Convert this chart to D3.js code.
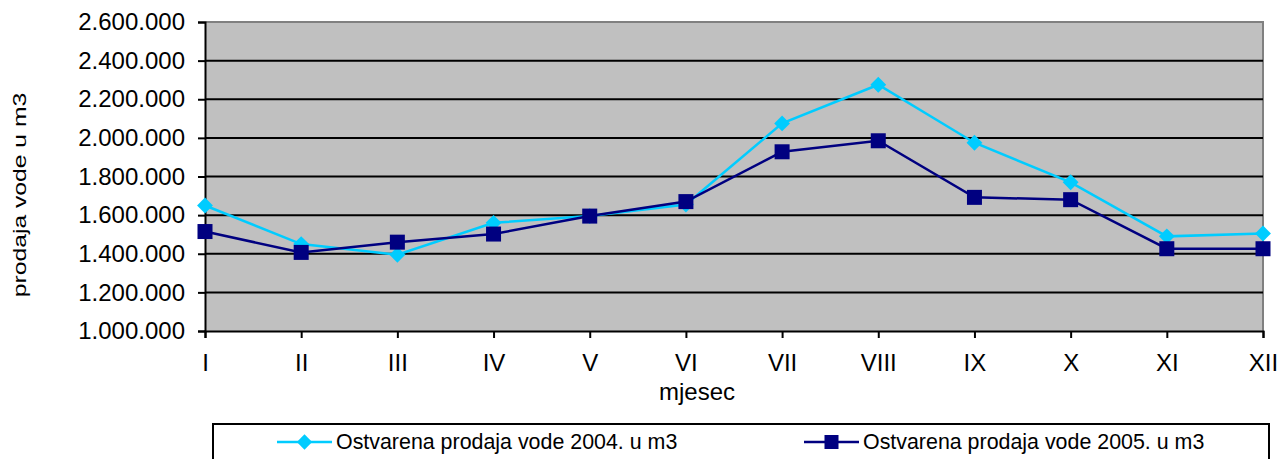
<!DOCTYPE html>
<html>
<head>
<meta charset="utf-8">
<script src="https://cdn.jsdelivr.net/npm/d3@7"></script>
<style>
  body { margin: 0; background: #fff; }
  text { font-family: "Liberation Sans", Arial, sans-serif; fill: #000; }
</style>
</head>
<body>
<div id="chart"></div>
<script>
// months (roman numerals)
const months = ["I","II","III","IV","V","VI","VII","VIII","IX","X","XI","XII"];
// water sales 2004 / 2005 in m3
const sales2004 = [1650000,1450000,1395000,1560000,1595000,1655000,2075000,2275000,1975000,1770000,1490000,1505000];
const sales2005 = [1515000,1407000,1460000,1502000,1595000,1670000,1928000,1985000,1692000,1680000,1426000,1426000];
const yTicks = [1000000,1200000,1400000,1600000,1800000,2000000,2200000,2400000,2600000];
const seriesNames = ["Ostvarena prodaja vode 2004. u m3","Ostvarena prodaja vode 2005. u m3"];

const W = 1281, H = 459;
const margin = {top: 22, right: 18, bottom: 128, left: 205};
const width = W - margin.left - margin.right,
      height = H - margin.top - margin.bottom;

const svg = d3.select("#chart").append("svg")
  .attr("width", W).attr("height", H);

const g = svg.append("g")
  .attr("transform", `translate(${margin.left},${margin.top})`);

const x = d3.scalePoint().domain(months).range([0, width]);
const y = d3.scaleLinear().domain([1000000, 2600000]).range([height, 0]);

const fmt = v => d3.format(",")(v).replace(/,/g, ".");

// plot background
g.append("rect")
  .attr("width", width).attr("height", height)
  .attr("fill", "#c0c0c0");

// gray frame top/right
g.append("path")
  .attr("d", `M0,0H${width}V${height}`)
  .attr("fill", "none").attr("stroke", "#808080").attr("stroke-width", 2);

// gridlines
g.append("g").selectAll("line")
  .data(yTicks.slice(1, -1))
  .join("line")
    .attr("x1", 0).attr("x2", width)
    .attr("y1", d => y(d)).attr("y2", d => y(d))
    .attr("stroke", "#000").attr("stroke-width", 2);

// y axis
const yAxis = g.append("g")
  .call(d3.axisLeft(y).tickValues(yTicks).tickFormat(fmt).tickSize(7).tickPadding(13));
yAxis.select(".domain").attr("stroke-width", 2);
yAxis.selectAll(".tick line").attr("stroke-width", 2);
yAxis.selectAll("text").style("font-size", "24px");

// x axis
const xAxis = g.append("g")
  .attr("transform", `translate(0,${height})`)
  .call(d3.axisBottom(x).tickSize(7).tickPadding(16));
xAxis.select(".domain").attr("stroke-width", 2);
xAxis.selectAll(".tick line").attr("stroke-width", 2);
xAxis.selectAll("text").style("font-size", "24px");

// axis titles
svg.append("text")
  .attr("transform", "translate(26,195) rotate(-90) scale(1.3,1)")
  .attr("text-anchor", "middle")
  .style("font-size", "19px")
  .text("prodaja vode u m3");

svg.append("text")
  .attr("x", 697).attr("y", 400)
  .attr("text-anchor", "middle")
  .style("font-size", "24px")
  .text("mjesec");

const line = d3.line().x((d, i) => x(months[i])).y(d => y(d));

// series 2004 - diamonds
g.append("path")
  .datum(sales2004)
  .attr("d", line)
  .attr("fill", "none").attr("stroke", "#00ccff").attr("stroke-width", 2.5);
g.append("g").selectAll("path")
  .data(sales2004)
  .join("path")
    .attr("d", d3.symbol(d3.symbolDiamond2, 160))
    .attr("transform", (d, i) => `translate(${x(months[i])},${y(d)})`)
    .attr("fill", "#00ccff");

// series 2005 - squares
g.append("path")
  .datum(sales2005)
  .attr("d", line)
  .attr("fill", "none").attr("stroke", "#000080").attr("stroke-width", 2.5);
g.append("g").selectAll("rect")
  .data(sales2005)
  .join("rect")
    .attr("x", (d, i) => x(months[i]) - 7.5)
    .attr("y", d => y(d) - 7.5)
    .attr("width", 15).attr("height", 15)
    .attr("fill", "#000080");

// legend
const leg = svg.append("g");
leg.append("rect")
  .attr("x", 213).attr("y", 424).attr("width", 1056).attr("height", 50)
  .attr("fill", "#fff").attr("stroke", "#000").attr("stroke-width", 2);

const legItems = [
  {name: seriesNames[0], color: "#00ccff", x0: 277, shape: "diamond"},
  {name: seriesNames[1], color: "#000080", x0: 804, shape: "square"}
];
legItems.forEach(it => {
  const ly = 442;
  leg.append("line")
    .attr("x1", it.x0).attr("x2", it.x0 + 55)
    .attr("y1", ly).attr("y2", ly)
    .attr("stroke", it.color).attr("stroke-width", 2.5);
  if (it.shape === "diamond") {
    leg.append("path")
      .attr("d", d3.symbol(d3.symbolDiamond2, 150))
      .attr("transform", `translate(${it.x0 + 27.5},${ly})`)
      .attr("fill", it.color);
  } else {
    leg.append("rect")
      .attr("x", it.x0 + 27.5 - 7).attr("y", ly - 7)
      .attr("width", 14).attr("height", 14)
      .attr("fill", it.color);
  }
  leg.append("text")
    .attr("x", it.x0 + 59).attr("y", ly + 7)
    .style("font-size", "21.4px")
    .text(it.name);
});
</script>
</body>
</html>
